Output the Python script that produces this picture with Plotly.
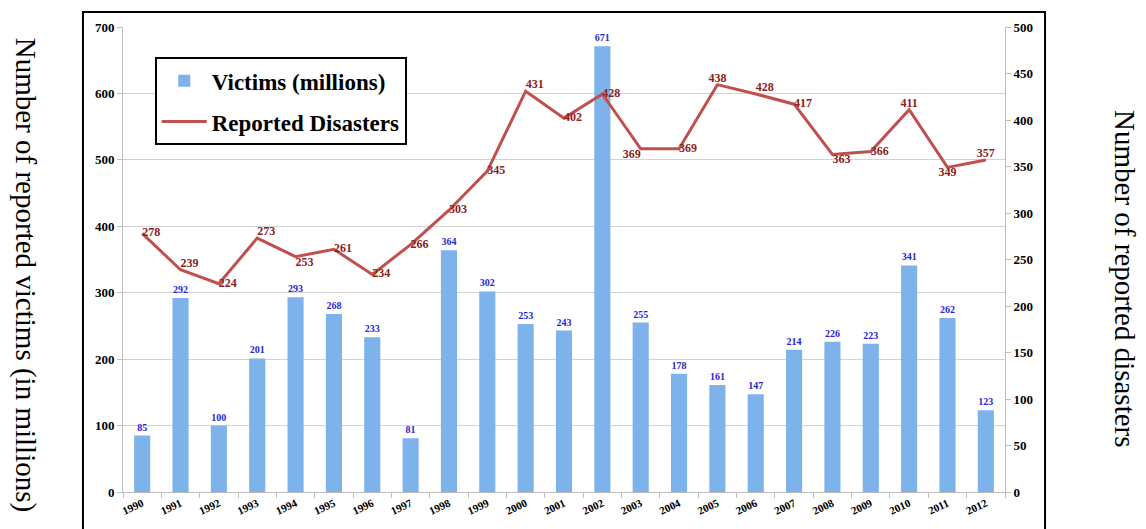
import plotly.graph_objects as go

years = [str(y) for y in range(1990, 2013)]
victims = [85, 292, 100, 201, 293, 268, 233, 81, 364, 302, 253, 243, 671,
           255, 178, 161, 147, 214, 226, 223, 341, 262, 123]
disasters = [278, 239, 224, 273, 253, 261, 234, 266, 303, 345, 431, 402, 428,
             369, 369, 438, 428, 417, 363, 366, 411, 349, 357]
line_label_pos = ["middle right", "top right", "middle right", "top right", "bottom right",
                  "middle right", "middle right", "middle right", "middle right", "middle right",
                  "top right", "middle right", "middle right", "bottom left", "middle right",
                  "top center", "top right", "middle right", "bottom right", "middle right",
                  "top center", "bottom center", "top center"]

SERIF = "Liberation Serif"

fig = go.Figure()
fig.add_trace(go.Bar(
    x=years, y=victims, name="Victims (millions)", legendgroup="a",
    marker=dict(color="#7db2ea", line=dict(width=0)),
    text=[str(v) for v in victims], textposition="outside",
    textfont=dict(family=SERIF, size=10, color="#2626d6", weight="bold"),
    cliponaxis=False, yaxis="y",
))
fig.add_trace(go.Scatter(
    x=years, y=disasters, name="Reported Disasters", mode="lines+text", legendgroup="b",
    line=dict(color="#c0504d", width=3),
    text=[str(v) for v in disasters], textposition=line_label_pos,
    textfont=dict(family=SERIF, size=12, color="#8b2020", weight="bold"),
    cliponaxis=False, yaxis="y2",
))

fig.update_layout(
    width=1138, height=521,
    margin=dict(l=115, r=141, t=17, b=37),
    paper_bgcolor="white", plot_bgcolor="white",
    font=dict(family=SERIF, color="black"),
    bargap=0.58,
    showlegend=True,
    legend=dict(x=0.036, y=0.935, xanchor="left", yanchor="top",
                bordercolor="black", borderwidth=2, bgcolor="white",
                font=dict(family=SERIF, size=23, color="black", weight="bold"),
                itemwidth=45, traceorder="grouped", tracegroupgap=8),
    xaxis=dict(type="category", range=[-0.5, 22.5], tickangle=-25, showgrid=False,
               showline=True, linecolor="#bdbdbd", linewidth=1,
               ticks="outside", tickson="boundaries", ticklen=5, tickcolor="#bdbdbd",
               tickfont=dict(family=SERIF, size=11, color="black", weight="bold")),
    yaxis=dict(range=[0, 700], dtick=100, showgrid=True, gridcolor="#d3d3d3", gridwidth=1,
               showline=True, linecolor="#bdbdbd", ticks="outside", ticklen=5,
               tickcolor="#bdbdbd", zeroline=False,
               tickfont=dict(family=SERIF, size=13, color="black", weight="bold")),
    yaxis2=dict(range=[0, 500], dtick=50, overlaying="y", side="right", showgrid=False,
                showline=True, linecolor="#bdbdbd", ticks="outside", ticklen=5,
                tickcolor="#bdbdbd", zeroline=False,
                tickfont=dict(family=SERIF, size=13, color="black", weight="bold")),
    shapes=[dict(type="rect", xref="paper", yref="paper",
                 x0=-0.0454, x1=1.0454, y0=-0.09, y1=1.032,
                 line=dict(color="black", width=2), fillcolor="rgba(0,0,0,0)", layer="below")],
    annotations=[
        dict(text="Number of reported victims (in millions)", xref="paper", yref="paper",
             x=-0.111, y=0.467, xanchor="center", yanchor="middle",
             textangle=90, showarrow=False,
             font=dict(family=SERIF, size=29, color="black")),
        dict(text="Number of reported disasters", xref="paper", yref="paper",
             x=1.136, y=0.458, xanchor="center", yanchor="middle",
             textangle=90, showarrow=False,
             font=dict(family=SERIF, size=29, color="black")),
    ],
)

fig.write_html("out.html")
